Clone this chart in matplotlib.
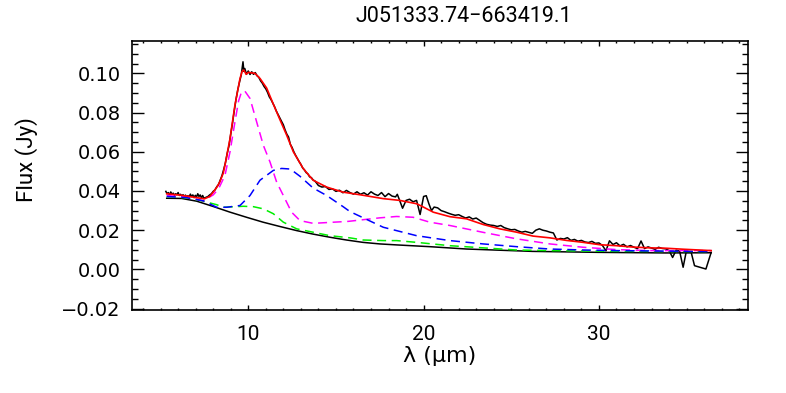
import matplotlib
matplotlib.use('Agg')
import matplotlib.pyplot as plt
from matplotlib.ticker import MultipleLocator, FuncFormatter

# observed spectrum (um, Jy)
obs_wave = [5.30, 5.37, 5.44, 5.51, 5.58, 5.65, 5.72, 5.79, 5.86, 5.93, 6.00, 6.07, 6.14, 6.21,
            6.28, 6.35, 6.42, 6.49, 6.56, 6.63, 6.70, 6.77, 6.84, 6.91, 6.98, 7.05, 7.12, 7.19,
            7.26, 7.33, 7.40, 7.47, 7.54,
            7.6, 7.7, 7.8, 7.9, 8.0, 8.1, 8.2, 8.3, 8.4, 8.5, 8.6, 8.7, 8.8, 8.9, 9.0, 9.1, 9.2,
            9.3, 9.4, 9.5, 9.6, 9.7, 9.75, 9.8, 9.9, 10.0, 10.1, 10.2, 10.3, 10.4, 10.5, 10.6,
            10.7, 10.8, 10.9, 11.0, 11.1, 11.2, 11.3, 11.4, 11.5, 11.6, 11.7, 11.8, 11.9, 12.0,
            12.1, 12.2, 12.3, 12.4, 12.5, 12.6, 12.7, 12.8, 12.9, 13.0, 13.1, 13.2, 13.3, 13.4,
            13.5, 13.6, 13.7, 13.8, 13.9,
            14.0, 14.2, 14.4, 14.6, 14.8, 15.0, 15.2, 15.4, 15.6, 15.8, 16.0, 16.2, 16.4, 16.6,
            16.8, 17.0, 17.2, 17.4, 17.6, 17.8, 18.0, 18.2, 18.4, 18.5, 18.6, 18.8, 19.0, 19.2,
            19.4, 19.6, 19.8, 20.0, 20.15, 20.3, 20.45, 20.6, 20.8,
            21.0, 21.2, 21.4, 21.6, 21.8, 22.0, 22.2, 22.4, 22.6, 22.8, 23.0, 23.2, 23.4, 23.6,
            23.8, 24.0, 24.2, 24.4, 24.6, 24.8, 25.0, 25.2, 25.4, 25.6, 25.8, 26.0, 26.2, 26.4,
            26.6, 26.8, 27.0, 27.2, 27.4, 27.6, 27.8, 28.0, 28.2, 28.4, 28.6, 28.8, 29.0, 29.2,
            29.4, 29.6, 29.8, 30.0, 30.2, 30.4, 30.6, 30.8, 31.0, 31.2, 31.4, 31.6, 31.8, 32.0,
            32.2, 32.4, 32.6, 32.8, 33.0, 33.2, 33.4, 33.6, 33.8, 34.0, 34.2, 34.4, 34.6, 34.8,
            34.97, 35.26, 35.45, 36.10, 36.40]
obs_flux = [0.0398, 0.0386, 0.0392, 0.0380, 0.0395, 0.0383, 0.0389, 0.0378, 0.0386, 0.0381,
            0.0392, 0.0377, 0.0383, 0.0374, 0.0381, 0.0372, 0.0379, 0.0368, 0.0376, 0.0370,
            0.0384, 0.0371, 0.0380, 0.0366, 0.0378, 0.0369, 0.0386, 0.0372, 0.0380, 0.0365,
            0.0377, 0.0362, 0.0366,
            0.0368, 0.0372, 0.0380, 0.0386, 0.0398, 0.0405, 0.0421, 0.0432, 0.0455, 0.0478,
            0.0510, 0.0545, 0.0592, 0.0630, 0.0690, 0.0745, 0.0808, 0.0866, 0.0915, 0.0955,
            0.0992, 0.1059, 0.1010, 0.1025, 0.0996, 0.1012, 0.0994, 0.1008, 0.0995, 0.1004,
            0.0988, 0.0980, 0.0962, 0.0950, 0.0933, 0.0921, 0.0903, 0.0880, 0.0866, 0.0848,
            0.0830, 0.0808, 0.0790, 0.0772, 0.0755, 0.0738, 0.0712, 0.0690, 0.0675, 0.0638,
            0.0622, 0.0600, 0.0582, 0.0566, 0.0550, 0.0536, 0.0518, 0.0508, 0.0494, 0.0487,
            0.0472, 0.0468, 0.0456, 0.0451, 0.0440,
            0.0428, 0.0420, 0.0423, 0.0408, 0.0411, 0.0398, 0.0404, 0.0391, 0.0403, 0.0392,
            0.0384, 0.0396, 0.0383, 0.0391, 0.0379, 0.0396, 0.0384, 0.0377, 0.0392, 0.0371,
            0.0387, 0.0374, 0.0370, 0.0383, 0.0360, 0.0312, 0.0352, 0.0358, 0.0345, 0.0352,
            0.0280, 0.0372, 0.0376, 0.0335, 0.0300, 0.0318, 0.0314,
            0.0300, 0.0294, 0.0287, 0.0281, 0.0276, 0.0279, 0.0270, 0.0262, 0.0268, 0.0257,
            0.0262, 0.0250, 0.0238, 0.0230, 0.0226, 0.0224, 0.0219, 0.0224, 0.0213, 0.0207,
            0.0202, 0.0204, 0.0196, 0.0190, 0.0194, 0.0189, 0.0184, 0.0200, 0.0207, 0.0200,
            0.0196, 0.0190, 0.0186, 0.0150, 0.0158, 0.0155, 0.0162, 0.0148, 0.0153, 0.0144,
            0.0148, 0.0140, 0.0137, 0.0143, 0.0133, 0.0135, 0.0122, 0.0095, 0.0146, 0.0127,
            0.0136, 0.0120, 0.0128, 0.0115, 0.0122, 0.0113, 0.0106, 0.0145, 0.0106, 0.0115,
            0.0109, 0.0102, 0.0113, 0.0107, 0.0105, 0.0096, 0.0061, 0.0098, 0.0093, 0.0011,
            0.0087, 0.0087, 0.0019, 0.0002, 0.0087]

# total fit
fit_wave = [5.35, 6.2, 7.06, 7.5, 7.8, 8.0, 8.2, 8.37, 8.57, 8.67, 8.96, 9.24, 9.53, 9.65, 9.75,
            9.88, 10.0, 10.38, 10.67, 11.05, 11.42, 11.8, 12.19, 12.57, 13.13, 13.7, 14.47,
            15.41, 16.36, 17.7, 18.64, 19.6, 19.9, 20.55, 21.5, 22.45, 23.4, 24.34, 25.3,
            26.24, 27.2, 28.14, 29.1, 30.04, 31.0, 31.94, 32.9, 33.84, 34.8, 36.4]
fit_flux = [0.0386, 0.0378, 0.0366, 0.0360, 0.0372, 0.0394, 0.0418, 0.0445, 0.0490, 0.0531,
            0.0667, 0.0838, 0.0974, 0.1010, 0.1017, 0.0995, 0.1005, 0.1000, 0.0974, 0.0925,
            0.0845, 0.0765, 0.0685, 0.0600, 0.0515, 0.0455, 0.0420, 0.0394, 0.0381, 0.0361,
            0.0352, 0.0335, 0.0322, 0.0292, 0.0269, 0.0258, 0.0229, 0.0207, 0.0190, 0.0170,
            0.0161, 0.0148, 0.0138, 0.0126, 0.0121, 0.0114, 0.0110, 0.0108, 0.0103, 0.0096]

# continuum
cont_wave = [5.35, 6.2, 7.06, 8.0, 8.96, 9.9, 10.84, 11.8, 12.76, 13.7, 14.66, 15.6, 16.54,
             17.5, 18.46, 20.35, 22.45, 26.2, 30.0, 33.8, 36.4]
cont_flux = [0.0363, 0.0362, 0.0348, 0.0321, 0.0292, 0.0266, 0.0241, 0.0219, 0.0198, 0.0180,
             0.0164, 0.0150, 0.0138, 0.0130, 0.0125, 0.0116, 0.0104, 0.0092, 0.0087, 0.0084,
             0.0085]

# dashed components
magenta_wave = [5.35, 6.5, 7.43, 8.0, 8.3, 8.67, 8.96, 9.24, 9.45, 9.62, 9.81, 10.1, 10.48,
                10.86, 11.24, 11.62, 12.0, 12.47, 12.95, 13.7, 15.7, 17.5, 18.46, 19.4, 20.35,
                21.5, 23.4, 25.3, 27.2, 29.1, 31.0, 32.9, 36.4]
magenta_flux = [0.0377, 0.0368, 0.0350, 0.0380, 0.0410, 0.0479, 0.0600, 0.0752, 0.0860,
                0.0906, 0.0909, 0.0872, 0.0752, 0.0633, 0.0548, 0.0445, 0.0377, 0.0292,
                0.0249, 0.0235, 0.0245, 0.0263, 0.0270, 0.0266, 0.0241, 0.0224, 0.0189,
                0.0156, 0.0130, 0.0113, 0.0101, 0.0096, 0.0096]

blue_wave = [5.35, 6.5, 7.43, 8.2, 8.77, 9.53, 10.1, 10.67, 11.43, 11.9, 12.4, 12.95, 13.7,
             14.47, 15.41, 15.8, 17.7, 19.6, 21.5, 23.4, 25.3, 27.2, 29.1, 31.0, 36.4]
blue_flux = [0.0372, 0.0366, 0.0350, 0.0317, 0.0317, 0.0326, 0.0377, 0.0455, 0.0505, 0.0515,
             0.0512, 0.0475, 0.0415, 0.0377, 0.0320, 0.0295, 0.0215, 0.0172, 0.0147, 0.0130,
             0.0116, 0.0104, 0.0099, 0.0096, 0.0091]

green_wave = [5.35, 6.5, 7.43, 8.2, 8.57, 9.72, 10.29, 10.86, 11.43, 12.0, 12.76, 14.66, 15.8,
              16.55, 17.7, 18.46, 19.6, 21.5, 23.4, 25.3, 27.2, 31.0, 36.4]
green_flux = [0.0372, 0.0365, 0.0348, 0.0330, 0.0317, 0.0322, 0.0320, 0.0309, 0.0284, 0.0241,
              0.0207, 0.0172, 0.0161, 0.0150, 0.0147, 0.0147, 0.0138, 0.0121, 0.0110, 0.0099,
              0.0096, 0.0092, 0.0091]

plt.rcParams['font.family'] = 'DejaVu Sans'
plt.rcParams['lines.scale_dashes'] = False
thin = ['Roboto', 'DejaVu Sans']

fig = plt.figure(figsize=(7.86, 3.93), dpi=100)
ax = fig.add_axes([132 / 786, 1 - 310 / 393, 616 / 786, 269 / 393])

dash = (6.5, 4.0)
ax.plot(obs_wave, obs_flux, color='black', lw=1.1)
ax.plot(cont_wave, cont_flux, color='black', lw=1.1)
ax.plot(green_wave, green_flux, color='#00ee00', lw=1.1, dashes=dash)
ax.plot(magenta_wave, magenta_flux, color='#ff00ff', lw=1.1, dashes=dash)
ax.plot(blue_wave, blue_flux, color='#0000ff', lw=1.1, dashes=dash)
ax.plot(fit_wave, fit_flux, color='red', lw=1.2)

ax.set_xlim(3.37, 38.5)
ax.set_ylim(-0.0207, 0.1165)

ax.xaxis.set_major_locator(MultipleLocator(10))
ax.xaxis.set_minor_locator(MultipleLocator(1))
ax.yaxis.set_major_locator(MultipleLocator(0.02))
ax.yaxis.set_minor_locator(MultipleLocator(0.005))


def yfmt(v, pos):
    if abs(v) < 1e-9:
        v = 0.0
    return f'{v:.2f}'.replace('-', '\u2212')


ax.yaxis.set_major_formatter(FuncFormatter(yfmt))

ax.tick_params(axis='both', which='both', direction='in', top=True, right=True, width=1, color='black')
ax.tick_params(axis='y', which='major', length=8.4, pad=8, labelsize=14)
ax.tick_params(axis='y', which='minor', length=4)
ax.tick_params(axis='x', which='major', length=3.6, pad=11, labelsize=15)
ax.tick_params(axis='x', which='minor', length=1.6)
for lab in ax.get_xticklabels():
    lab.set_family(thin)
for s in ax.spines.values():
    s.set_linewidth(1.2)

ax.set_xlabel('\u03bb (\u03bcm)', fontsize=16)
ax.xaxis.set_label_coords(0.5, -0.135)
ax.set_ylabel('Flux (Jy)', fontsize=16, family=thin)
ax.yaxis.set_label_coords(-0.153, 0.558)

fig.text(464 / 786, 1 - 16 / 393, 'J051333.74\u2212663419.1', fontsize=15.5, family=thin,
         ha='center', va='center')

fig.savefig('out.png', dpi=100)
